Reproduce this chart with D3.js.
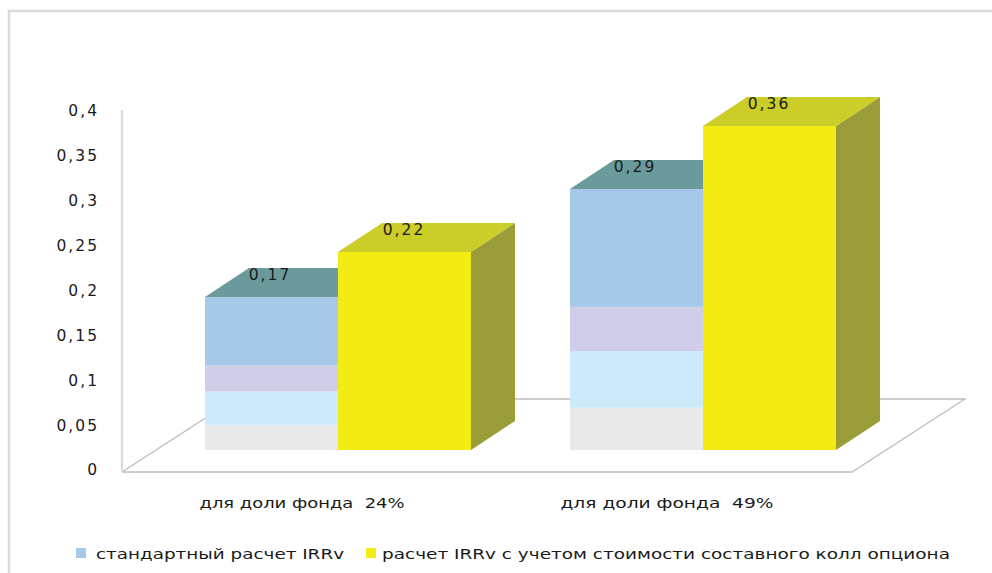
<!DOCTYPE html>
<html lang="ru">
<head>
<meta charset="utf-8">
<script src="https://cdn.jsdelivr.net/npm/d3@7"></script>
<style>
  html, body { margin: 0; padding: 0; background: #fff; }
  svg { display: block; }
  text { font-family: "DejaVu Sans", sans-serif; fill: #1a1a1a; }
</style>
</head>
<body>
<svg id="chart" width="992" height="573"></svg>
<script>
// Chart data
const categories = ["для доли фонда  24%", "для доли фонда  49%"];
const stackColors = ["#e9e9e9", "#cdeafb", "#cfcde8", "#a6c9ea"];
const stackGroup24 = [0.028, 0.037, 0.029, 0.076];
const stackGroup49 = [0.047, 0.063, 0.049, 0.131];
const standardLabels = [0.17, 0.29];
const optionValues = [0.22, 0.36];
const yTicks = [0, 0.05, 0.1, 0.15, 0.2, 0.25, 0.3, 0.35, 0.4];
const legendLabels = ["стандартный расчет IRRv", "расчет IRRv с учетом стоимости составного колл опциона"];

const comma = d => String(d).replace(".", ",");
const svg = d3.select("#chart");

// Outer chart frame
svg.append("path")
  .attr("d", "M9,573V11H992")
  .attr("fill", "none").attr("stroke", "#dcdcdc").attr("stroke-width", 2.5);

// Perspective offset of the 3D box
const depth = { x: 44, y: -29 };

// Value scale on the wall (axis) and on the front plane of the bars
const wallY = d3.scaleLinear().domain([0, 0.4]).range([470, 111]);
const frontY = d3.scaleLinear().domain([0, 0.4]).range([450, 90]);

// Category bands and the two bars inside each
const x0 = d3.scaleBand().domain(categories).range([133, 863]);
const x1 = d3.scaleBand().domain(["standard", "option"]).range([72, 338]);

// Floor and side wall
const floor = svg.append("g").attr("fill", "none").attr("stroke", "#bdbdbd").attr("stroke-width", 1.3);
floor.append("path").attr("d", "M122,472H852L965,399H235L122,472");
svg.append("path").attr("d", "M122,110V472").attr("fill", "none").attr("stroke", "#dddddd").attr("stroke-width", 2.5);

// Value axis
const axis = d3.axisLeft(wallY).tickValues(yTicks).tickSize(0).tickPadding(0).tickFormat(comma);
const axisG = svg.append("g").attr("transform", "translate(99,0)").call(axis);
axisG.select(".domain").remove();
axisG.selectAll("text").attr("font-size", 15.5).attr("letter-spacing", 2).attr("fill", "#1a1a1a");

function topFace(x, w, y) {
  return `M${x},${y}l${depth.x},${depth.y}h${w}l${-depth.x},${-depth.y}Z`;
}
function sideFace(x, yTop, yBottom) {
  return `M${x},${yTop}l${depth.x},${depth.y}V${yBottom + depth.y}l${-depth.x},${-depth.y}Z`;
}
function valueLabel(g, x, y, value) {
  g.append("text").attr("x", x).attr("y", y)
    .attr("text-anchor", "middle").attr("font-size", 15.5).attr("letter-spacing", 2)
    .text(comma(value));
}

const categoryWidths = [205, 213];

categories.forEach((cat, i) => {
  const xa = x0(cat) + x1("standard");
  const xb = x0(cat) + x1("option");
  const w = x1.bandwidth();
  const segments = i === 0 ? stackGroup24 : stackGroup49;
  const g = svg.append("g");

  // Stacked bar: segments from the bottom up, then its teal top face
  let running = 0;
  segments.forEach((v, k) => {
    g.append("rect")
      .attr("x", xa).attr("width", w)
      .attr("y", frontY(running + v))
      .attr("height", frontY(running) - frontY(running + v))
      .attr("fill", stackColors[k]);
    running += v;
  });
  g.append("path").attr("d", topFace(xa, w, frontY(standardLabels[i]))).attr("fill", "#6a9a9c");

  // Yellow bar with its top and side faces
  const yTop = frontY(optionValues[i]);
  g.append("path").attr("d", sideFace(xb + w, yTop, frontY(0))).attr("fill", "#9a9c37");
  g.append("path").attr("d", topFace(xb, w, yTop)).attr("fill", "#cbcd28");
  g.append("rect").attr("x", xb).attr("width", w).attr("y", yTop)
    .attr("height", frontY(0) - yTop).attr("fill", "#f2ec14");

  // Value labels on the top faces
  valueLabel(g, xa + 65, frontY(standardLabels[i]) - 17, standardLabels[i]);
  valueLabel(g, xb + 66, yTop - 17, optionValues[i]);

  // Category label
  svg.append("text").attr("x", xa + 97).attr("y", 508)
    .attr("text-anchor", "middle").attr("font-size", 13.5)
    .attr("textLength", categoryWidths[i]).attr("lengthAdjust", "spacingAndGlyphs")
    .style("white-space", "pre").text(cat);
});

// Legend
const legendX = [
  { box: 76, text: 96, len: 248, c: "#a6c9ea" },
  { box: 366, text: 382, len: 568, c: "#f2ec14" }
];
legendLabels.forEach((label, i) => {
  svg.append("rect").attr("x", legendX[i].box).attr("y", 548).attr("width", 10).attr("height", 10).attr("fill", legendX[i].c);
  svg.append("text").attr("x", legendX[i].text).attr("y", 559).attr("font-size", 14)
    .attr("textLength", legendX[i].len).attr("lengthAdjust", "spacingAndGlyphs").text(label);
});
</script>
</body>
</html>
